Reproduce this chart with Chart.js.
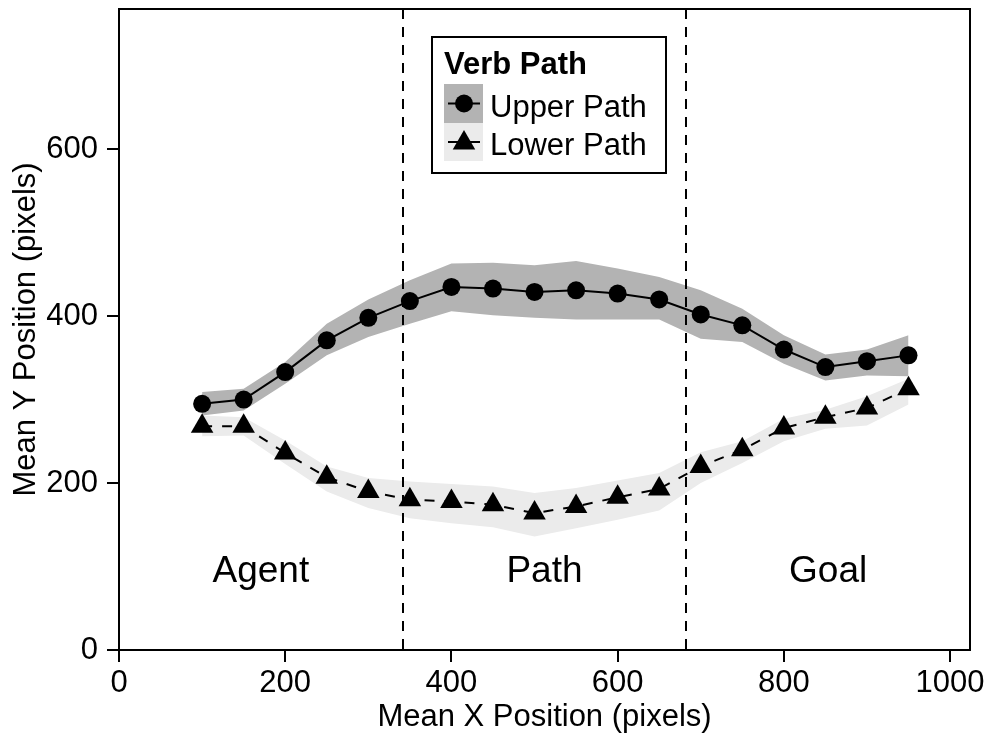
<!DOCTYPE html>
<html>
<head>
<meta charset="utf-8">
<script src="https://cdn.jsdelivr.net/npm/chart.js@4/dist/chart.umd.min.js"></script>
<style>
  body { margin: 0; background: #fff; }
  #wrap { width: 995px; height: 738px; }
</style>
</head>
<body>
<div id="wrap"><canvas id="pathChart" width="995" height="738"></canvas></div>
<script>
// mean x positions (screen pixels) of each time bin
const xBins = [100, 150, 200, 250, 300, 350, 400, 450, 500, 550, 600, 650, 700, 750, 800, 850, 900, 950];

// Upper path: mean y and ribbon bounds
const upperMean = [295, 300, 333, 371, 398, 418, 435, 433, 429, 431, 427, 420, 402, 389, 360, 339, 346, 353];
const upperHigh = [309, 313, 345, 391, 420, 443, 463, 464, 461, 466, 457, 447, 431, 409, 377, 354, 360, 377];
const upperLow  = [281, 287, 319, 353, 375, 391, 406, 401, 398, 396, 396, 396, 373, 369, 343, 323, 329, 328];

// Lower path: mean y and ribbon bounds
const lowerMean = [268, 268, 236, 207, 190, 180, 178, 174, 164, 172, 183, 193, 220, 240, 266, 279, 290, 313];
const lowerHigh = [281, 279, 251, 220, 206, 202, 199, 196, 188, 194, 203, 212, 237, 250, 277, 288, 304, 325];
const lowerLow  = [256, 257, 223, 190, 170, 158, 152, 147, 136, 146, 156, 167, 200, 224, 250, 265, 269, 294];

const xTicks = [0, 200, 400, 600, 800, 1000];
const yTicks = [0, 200, 400, 600];

const screenW = 1024;
const screenH = 768;
const regionNames = ['Agent', 'Path', 'Goal'];

const FONT = 'Liberation Sans, Arial, sans-serif';
Chart.defaults.color = '#000';
Chart.defaults.font.family = FONT;

function pts(arr) {
    return xBins.map((x, i) => ({ x: x, y: arr[i] }));
}

// dashed region dividers, region names, frame and legend
const extras = {
    id: 'extras',
    afterDatasetsDraw(chart) {
        const { ctx, chartArea, scales } = chart;
        const xs = scales.x, ys = scales.y;

        ctx.save();
        ctx.strokeStyle = '#000';
        ctx.lineWidth = 2;
        ctx.setLineDash([10, 8]);
        [screenW / 3, screenW * 2 / 3].forEach(v => {
            const px = Math.round(xs.getPixelForValue(v));
            ctx.beginPath();
            ctx.moveTo(px, chartArea.top);
            ctx.lineTo(px, chartArea.bottom);
            ctx.stroke();
        });
        ctx.setLineDash([]);

        ctx.font = '37px ' + FONT;
        ctx.fillStyle = '#000';
        ctx.textAlign = 'center';
        ctx.textBaseline = 'alphabetic';
        regionNames.forEach((name, i) => {
            const cx = xs.getPixelForValue(screenW * (2 * i + 1) / 6);
            ctx.fillText(name, cx, ys.getPixelForValue(81));
        });

        // frame
        ctx.strokeRect(chartArea.left, chartArea.top,
            chartArea.right - chartArea.left, chartArea.bottom - chartArea.top);

        // legend
        const lx = 432, ly = 37, lw = 234, lh = 136;
        ctx.fillStyle = '#fff';
        ctx.fillRect(lx, ly, lw, lh);
        ctx.strokeRect(lx, ly, lw, lh);
        ctx.fillStyle = '#000';
        ctx.textAlign = 'left';
        ctx.font = 'bold 31px ' + FONT;
        ctx.fillText('Verb Path', 444, 74);

        ctx.fillStyle = '#b3b3b3';
        ctx.fillRect(444, 84, 39, 39);
        ctx.fillStyle = '#ebebeb';
        ctx.fillRect(444, 123, 39, 38);

        ctx.fillStyle = '#000';
        ctx.beginPath();
        ctx.moveTo(448, 103.5); ctx.lineTo(480, 103.5);
        ctx.moveTo(448, 142); ctx.lineTo(480, 142);
        ctx.stroke();
        ctx.beginPath();
        ctx.arc(464, 103.5, 9, 0, Math.PI * 2);
        ctx.fill();
        const r = 13;
        ctx.beginPath();
        for (let k = 0; k < 3; k++) {
            const a = k * 2 * Math.PI / 3;
            const px = 464 + Math.sin(a) * r, py = 143 - Math.cos(a) * r;
            if (k === 0) ctx.moveTo(px, py); else ctx.lineTo(px, py);
        }
        ctx.closePath();
        ctx.fill();

        ctx.font = '31px ' + FONT;
        ctx.fillText('Upper Path', 490, 117);
        ctx.fillText('Lower Path', 490, 155);
        ctx.restore();
    }
};

const ctx = document.getElementById('pathChart').getContext('2d');
new Chart(ctx, {
    type: 'line',
    data: {
        datasets: [
            { data: pts(lowerHigh), fill: '+1', backgroundColor: '#ebebeb', borderWidth: 0, pointRadius: 0, order: 2 },
            { data: pts(lowerLow), fill: false, borderWidth: 0, pointRadius: 0, order: 2 },
            { data: pts(upperHigh), fill: '+1', backgroundColor: '#b3b3b3', borderWidth: 0, pointRadius: 0, order: 1 },
            { data: pts(upperLow), fill: false, borderWidth: 0, pointRadius: 0, order: 1 },
            {
                label: 'Upper Path', data: pts(upperMean), borderColor: '#000', borderWidth: 2,
                pointStyle: 'circle', pointRadius: 9, pointBackgroundColor: '#000', pointBorderWidth: 0, order: 0
            },
            {
                label: 'Lower Path', data: pts(lowerMean), borderColor: '#000', borderWidth: 2, borderDash: [10, 10],
                pointStyle: 'triangle', pointRadius: 13, pointBackgroundColor: '#000', pointBorderWidth: 0, order: 0
            }
        ]
    },
    options: {
        responsive: false,
        animation: false,
        events: [],
        devicePixelRatio: 1,
        layout: { autoPadding: false, padding: { left: 0, top: 9, right: 25, bottom: 0 } },
        plugins: {
            legend: { display: false },
            tooltip: { enabled: false }
        },
        scales: {
            x: {
                type: 'linear',
                min: 0,
                max: screenW,
                afterFit: s => { s.height = 88; s.paddingLeft = 0; s.paddingRight = 0; },
                afterBuildTicks: s => { s.ticks = xTicks.map(v => ({ value: v })); },
                grid: { drawOnChartArea: false, drawTicks: true, tickLength: 12, color: '#000', lineWidth: 2 },
                border: { display: true, color: '#000', width: 2 },
                ticks: { font: { size: 31 }, padding: 3, maxRotation: 0, color: '#000', callback: v => String(v) },
                title: { display: true, text: 'Mean X Position (pixels)', font: { size: 31 }, padding: { top: 0, bottom: 2 } }
            },
            y: {
                type: 'linear',
                min: 0,
                max: screenH,
                afterFit: s => { s.width = 119; s.paddingTop = 0; s.paddingBottom = 0; },
                afterBuildTicks: s => { s.ticks = yTicks.map(v => ({ value: v })); },
                grid: { drawOnChartArea: false, drawTicks: true, tickLength: 12, color: '#000', lineWidth: 2 },
                border: { display: true, color: '#000', width: 2 },
                ticks: { font: { size: 31 }, padding: 9, color: '#000', callback: v => String(v) },
                title: { display: true, text: 'Mean Y Position (pixels)', font: { size: 31 }, padding: { top: 8, bottom: 0 } }
            }
        }
    },
    plugins: [extras]
});
</script>
</body>
</html>
